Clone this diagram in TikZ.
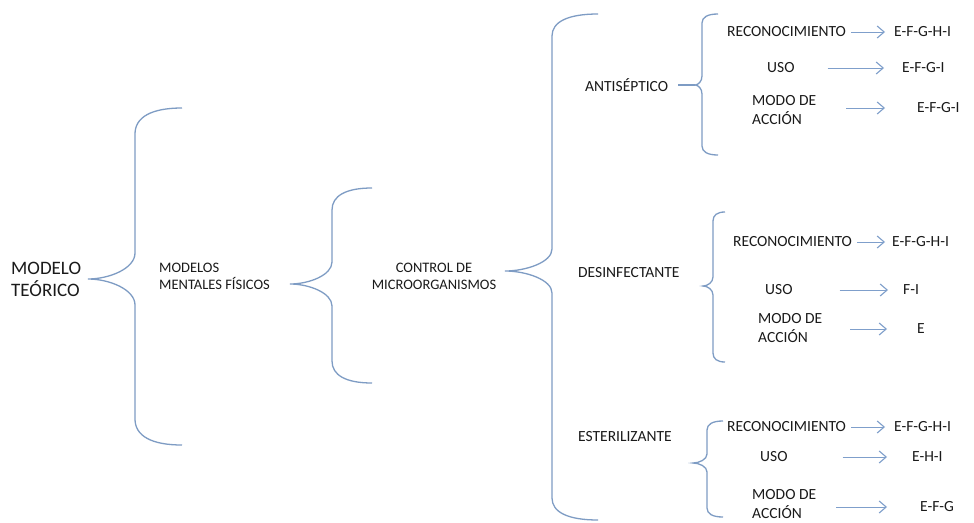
\documentclass[tikz,border=0pt]{standalone}
\usepackage{fontspec}
\setmainfont{Carlito}
\usetikzlibrary{arrows.meta}
\definecolor{brc}{HTML}{7E9CC4}
\definecolor{arc}{HTML}{7F9FCB}
\definecolor{txt}{HTML}{1A1A1A}
% #1 tip x, #2 vertical x, #3 end x, #4 top y, #5 tip y, #6 bottom y, #7 curve height
\newcommand{\mybrace}[7]{%
 \draw[brace] ({#3},{#4}) .. controls ({#2+0.35*(#3-#2)},{#4}) and ({#2},{#4+0.35*#7}) .. ({#2},{#4+#7})
  -- ({#2},{#5-#7}) .. controls ({#2},{#5-0.4*#7}) and ({#1+0.45*(#2-#1)},{#5}) .. ({#1},{#5})
  .. controls ({#1+0.45*(#2-#1)},{#5}) and ({#2},{#5+0.4*#7}) .. ({#2},{#5+#7})
  -- ({#2},{#6-#7}) .. controls ({#2},{#6-0.35*#7}) and ({#2+0.35*(#3-#2)},{#6}) .. ({#3},{#6});}
\begin{document}
\begin{tikzpicture}[x=1pt,y=-1pt,
  brace/.style={draw=brc,line width=1.3pt},
  arr/.style={draw=arc,line width=1pt,-{Straight Barb[length=7pt,width=12pt,line width=1.1pt]}},
  lbl/.style={text=txt,inner sep=0pt,anchor=west,align=left,font=\fontsize{15.5}{18.5}\selectfont},
  mid/.style={text=txt,inner sep=0pt,align=left,font=\fontsize{14.5}{17}\selectfont},
  big/.style={text=txt,inner sep=0pt,anchor=west,align=left,font=\fontsize{19}{22}\selectfont}]
\useasboundingbox (0,0) rectangle (974,522);
\fill[white] (0,0) rectangle (974,522);
% left nodes
\node[big] (mt) at (11,279) {MODELO\\TEÓRICO};
\node[mid,anchor=west] (mm) at (159,276) {MODELOS\\MENTALES FÍSICOS};
\node[mid,align=center] (cm) at (434,276) {CONTROL DE\\MICROORGANISMOS};
% category labels
\node[lbl] (an) at (585,85) {ANTISÉPTICO};
\node[lbl] (de) at (578,273) {DESINFECTANTE};
\node[lbl] (es) at (578,437) {ESTERILIZANTE};
% braces
\mybrace{88}{135}{182}{108}{279}{445}{26}
\mybrace{290}{332}{372}{188}{284}{383}{22}
\mybrace{505}{552}{598}{14}{271}{520}{22}
\mybrace{695}{702}{718}{14}{85}{155}{9}
\mybrace{703}{713}{725}{212}{286}{362}{9}
\mybrace{693}{707}{723}{421}{463}{517}{9}
\coordinate (t4) at (695,85);
\draw[brace] (an.east) ++(10,0) coordinate (d4) -- (t4);
% antiseptico
\node[lbl] (a1) at (727,32) {RECONOCIMIENTO};
\node[lbl] (a1r) at (894,32) {E-F-G-H-I};
\node[lbl] (a2) at (767,68) {USO};
\node[lbl] (a2r) at (902,68) {E-F-G-I};
\node[lbl] (a3) at (752,110) {MODO DE\\ACCIÓN};
\node[lbl] (a3r) at (917,108) {E-F-G-I};
% desinfectante
\node[lbl] (d1) at (733,242) {RECONOCIMIENTO};
\node[lbl] (d1r) at (892,242) {E-F-G-H-I};
\node[lbl] (d2) at (765,290) {USO};
\node[lbl] (d2r) at (903,290) {F-I};
\node[lbl] (d3) at (758,328) {MODO DE\\ACCIÓN};
\node[lbl] (d3r) at (917,329) {E};
% esterilizante
\node[lbl] (e1) at (727,427) {RECONOCIMIENTO};
\node[lbl] (e1r) at (894,427) {E-F-G-H-I};
\node[lbl] (e2) at (760,457) {USO};
\node[lbl] (e2r) at (912,457) {E-H-I};
\node[lbl] (e3) at (752,504) {MODO DE\\ACCIÓN};
\node[lbl] (e3r) at (920,507) {E-F-G};
% arrows
\draw[arr] ([xshift=5pt]a1.east) -- ([xshift=-9pt]a1r.west);
\draw[arr] ([xshift=33pt]a2.east) -- ([xshift=-18pt]a2r.west);
\draw[arr] ([xshift=30pt]a3.east|-a3r.west) -- ([xshift=-32pt]a3r.west);
\draw[arr] ([xshift=5pt]d1.east) -- ([xshift=-7pt]d1r.west);
\draw[arr] ([xshift=47pt]d2.east) -- ([xshift=-15pt]d2r.west);
\draw[arr] ([xshift=28pt]d3.east|-d3r.west) -- ([xshift=-30pt]d3r.west);
\draw[arr] ([xshift=5pt]e1.east) -- ([xshift=-9pt]e1r.west);
\draw[arr] ([xshift=55pt]e2.east) -- ([xshift=-25pt]e2r.west);
\draw[arr] ([xshift=20pt]e3.east|-e3r.west) -- ([xshift=-33pt]e3r.west);
\end{tikzpicture}
\end{document}
